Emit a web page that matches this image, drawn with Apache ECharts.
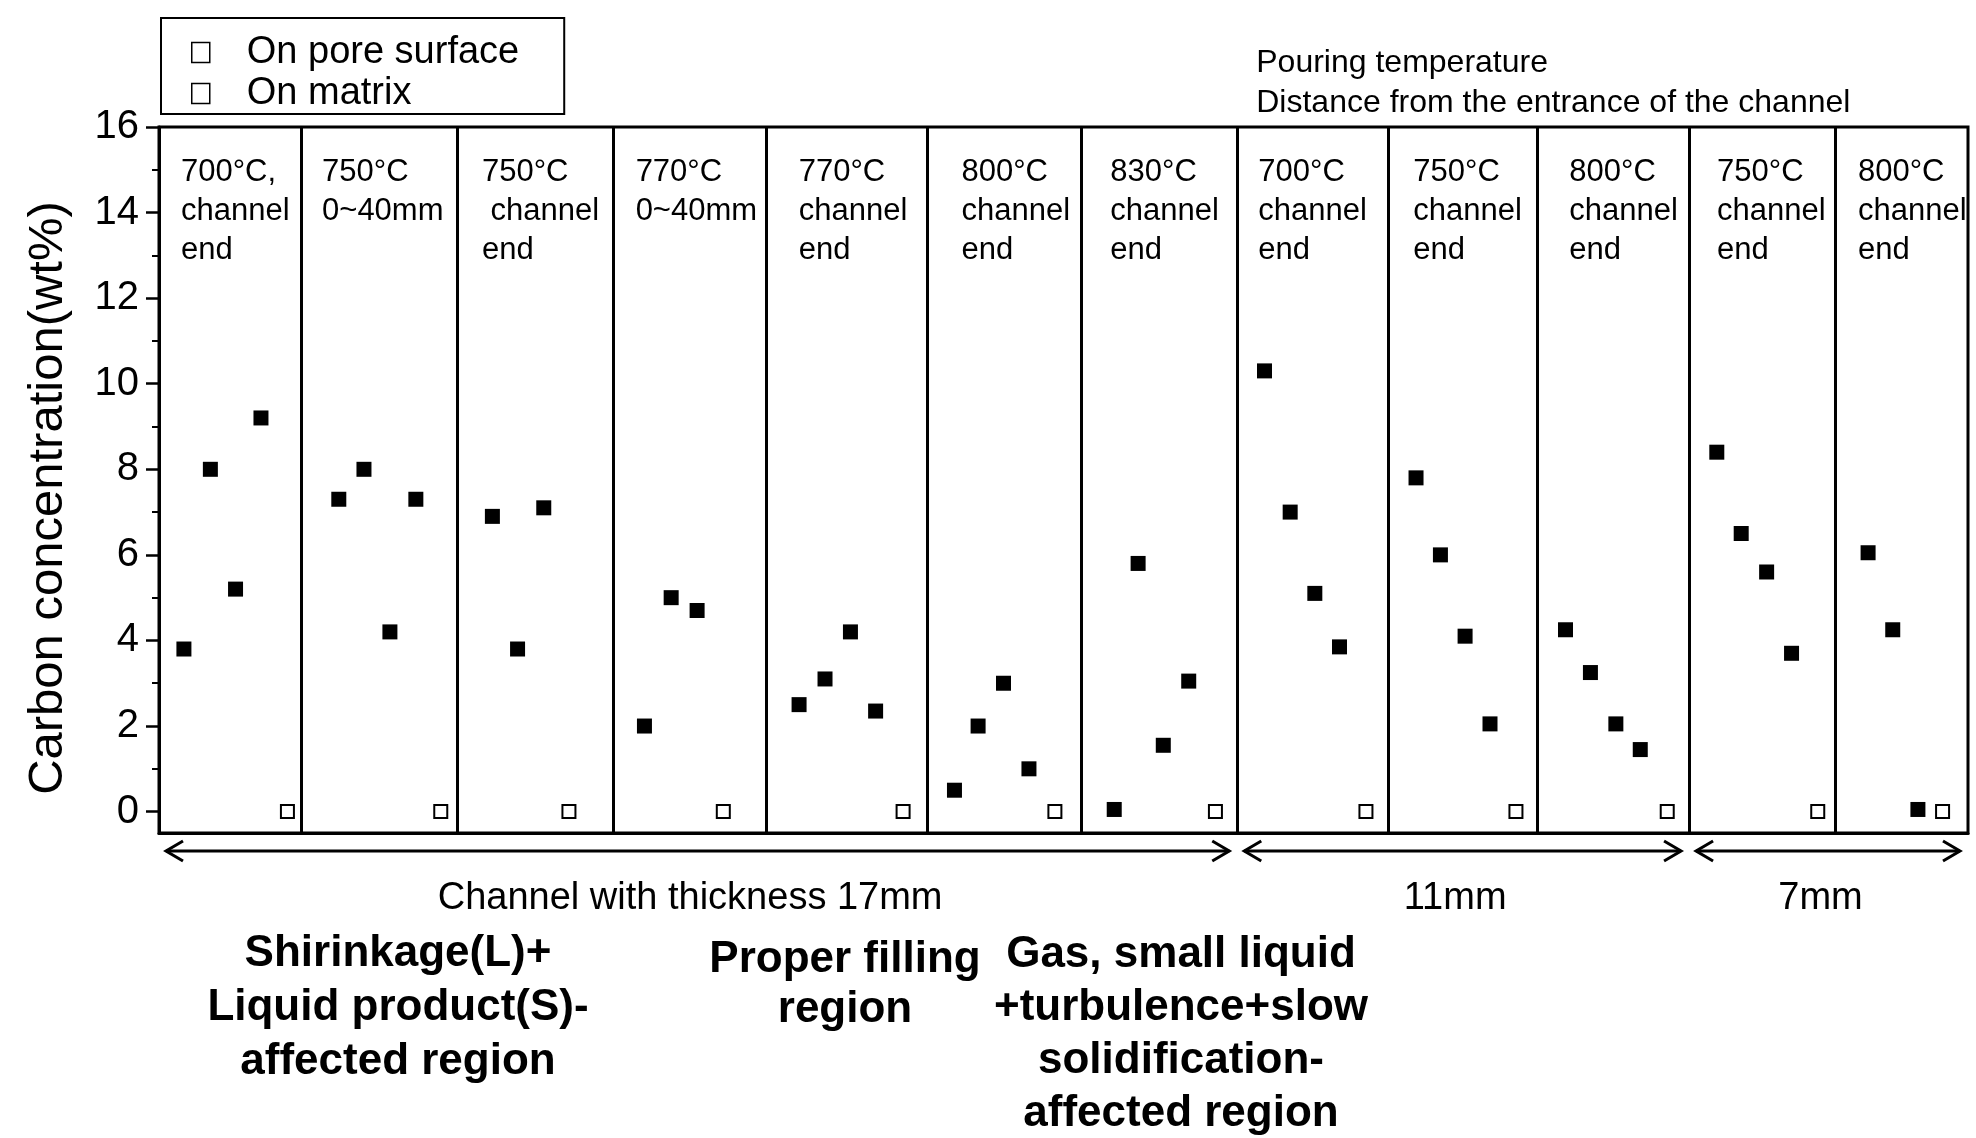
<!DOCTYPE html>
<html>
<head>
<meta charset="utf-8">
<title>Carbon concentration by channel</title>
<script src="https://cdn.jsdelivr.net/npm/echarts@6/dist/echarts.min.js"></script>
<style>
  html, body { margin: 0; padding: 0; background: #fff; }
  #chart { width: 1976px; height: 1138px; }
</style>
</head>
<body>
<div id="chart"></div>
<script>
const FONT = '"Liberation Sans", Arial, Helvetica, sans-serif'

// panel boundaries on the position axis
const panelEdges = [0, 5.53, 11.6, 17.7, 23.66, 29.92, 35.91, 41.98, 47.86, 53.66, 59.57, 65.25, 70.43]

// pouring temperature / distance from the channel entrance, one per panel
const panelLabels = [
  '700°C,\nchannel\nend', '750°C\n0~40mm', '750°C\n channel\nend', '770°C\n0~40mm',
  '770°C\nchannel\nend', '800°C\nchannel\nend', '830°C\nchannel\nend', '700°C\nchannel\nend',
  '750°C\nchannel\nend', '800°C\nchannel\nend', '750°C\nchannel\nend', '800°C\nchannel\nend'
]

// carbon on pore surface (filled squares)
const poreX = [
  0.97, 2.0, 2.98, 3.97,
  7.0, 7.98, 8.99, 10.0,
  12.98, 13.96, 14.98,
  18.9, 19.94, 20.95,
  24.92, 25.93, 26.92, 27.9,
  30.97, 31.89, 32.88, 33.87,
  37.19, 38.12, 39.1, 40.09,
  43.04, 44.04, 45.0, 45.96,
  48.94, 49.89, 50.85, 51.82,
  54.76, 55.73, 56.72, 57.67,
  60.65, 61.6, 62.59, 63.56,
  66.54, 67.5, 68.48
]
const poreY = [
  3.8, 8.0, 5.2, 9.2,
  7.3, 8.0, 4.2, 7.3,
  6.9, 3.8, 7.1,
  2.0, 5.0, 4.7,
  2.5, 3.1, 4.2, 2.35,
  0.5, 2.0, 3.0, 1.0,
  0.05, 5.8, 1.55, 3.05,
  10.3, 7.0, 5.1, 3.85,
  7.8, 6.0, 4.1, 2.05,
  4.25, 3.25, 2.05, 1.45,
  8.4, 6.5, 5.6, 3.7,
  6.05, 4.25, 0.05
]

// carbon on matrix (open squares)
const matrixX = [5.0, 10.97, 15.96, 21.97, 28.97, 34.88, 41.13, 46.99, 52.83, 58.72, 64.58, 69.44]
const matrixY = [0, 0, 0, 0, 0, 0, 0, 0, 0, 0, 0, 0]

const yTicks = [0, 2, 4, 6, 8, 10, 12, 14, 16]
const yMinorTicks = [1, 3, 5, 7, 9, 11, 13, 15]
const legendNames = ['On pore surface', 'On matrix']

// channel thickness groups, by panel index
const thicknessGroups = [
  { name: 'Channel with thickness 17mm', from: 0, to: 7 },
  { name: '11mm', from: 7, to: 10 },
  { name: '7mm', from: 10, to: 12 }
]

const regionNotes = [
  'Shirinkage(L)+\nLiquid product(S)-\naffected region',
  'Proper filling\nregion',
  'Gas, small liquid\n+turbulence+slow\nsolidification-\naffected region'
]

// layout only
const labelDx = [22, 21, 25, 22, 32, 34, 29, 21, 25, 32, 28, 23]
const notePos = [
  { x: 398, y: 927, lh: 54 },
  { x: 845, y: 935, lh: 50 },
  { x: 1181, y: 928, lh: 53 }
]

const chart = echarts.init(document.getElementById('chart'))

const option = {
  animation: false,
  backgroundColor: '#fff',
  textStyle: { fontFamily: FONT, color: '#000' },
  grid: {
    left: 159, right: 8, top: 127, bottom: 305,
    show: true, borderColor: '#000', borderWidth: 3,
    outerBoundsMode: 'none'
  },
  legend: {
    orient: 'vertical',
    left: 161, top: 18,
    padding: [14, 45, 0, 30],
    itemGap: 0,
    itemWidth: 18, itemHeight: 20,
    borderColor: '#000', borderWidth: 2,
    selectedMode: false,
    textStyle: { fontFamily: FONT, fontSize: 38, color: '#000', lineHeight: 41, padding: [0, 0, 0, 32] },
    data: legendNames.map(n => ({
      name: n, icon: 'rect',
      itemStyle: { color: '#fff', borderColor: '#000', borderWidth: 1.5 }
    }))
  },
  xAxis: {
    type: 'value', min: 0, max: panelEdges[panelEdges.length - 1],
    axisLine: { show: true, onZero: false, lineStyle: { color: '#000', width: 3 } },
    axisTick: { show: false },
    axisLabel: { show: false },
    splitLine: { show: false }
  },
  yAxis: [
    {
      type: 'value', min: -0.5, max: 16,
      name: 'Carbon concentration(wt%)',
      nameLocation: 'middle', nameGap: 86,
      nameTextStyle: { fontFamily: FONT, fontSize: 49, color: '#000', padding: [0, 36, 0, 0] },
      axisLine: { show: true, onZero: false, lineStyle: { color: '#000', width: 3 } },
      axisTick: { show: true, customValues: yTicks, length: 13, lineStyle: { color: '#000', width: 2.5 } },
      axisLabel: { customValues: yTicks, fontFamily: FONT, fontSize: 40, color: '#000', margin: 20 },
      splitLine: { show: false }
    },
    {
      type: 'value', min: -0.5, max: 16, position: 'left',
      axisLine: { show: false },
      axisTick: { show: true, customValues: yMinorTicks, length: 7, lineStyle: { color: '#000', width: 2 } },
      axisLabel: { show: false },
      splitLine: { show: false }
    }
  ],
  series: [
    {
      name: legendNames[0],
      type: 'scatter',
      symbol: 'rect', symbolSize: 15,
      itemStyle: { color: '#000', opacity: 1 },
      emphasis: { disabled: true },
      data: poreX.map((x, i) => [x, poreY[i]]),
      z: 5
    },
    {
      name: legendNames[1],
      type: 'scatter',
      symbol: 'rect', symbolSize: 13,
      itemStyle: { color: '#fff', borderColor: '#000', borderWidth: 2, opacity: 1 },
      emphasis: { disabled: true },
      data: matrixX.map((x, i) => [x, matrixY[i]]),
      z: 5,
      markLine: {
        silent: true,
        symbol: ['none', 'none'],
        label: { show: false },
        lineStyle: { color: '#000', width: 3, type: 'solid' },
        emphasis: { disabled: true },
        data: panelEdges.slice(1, -1).map(v => ({ xAxis: v }))
      }
    }
  ]
}

chart.setOption(option)

const px = v => chart.convertToPixel({ xAxisIndex: 0 }, v)
const graphics = []

// panel captions
panelLabels.forEach((t, i) => {
  graphics.push({
    type: 'text', x: px(panelEdges[i]) + labelDx[i], y: 153,
    style: { text: t, font: '31px ' + FONT, fill: '#000', lineHeight: 39, verticalAlign: 'top', align: 'left' }
  })
})

// header above the panels
graphics.push({
  type: 'text', x: px(panelEdges[7]) + 19, y: 43,
  style: {
    text: 'Pouring temperature\nDistance from the entrance of the channel',
    font: '32px ' + FONT, fill: '#000', lineHeight: 40, verticalAlign: 'top'
  }
})

// double-headed arrows for the channel thickness groups
function arrow(x1, x2, y) {
  const len = 17, half = 10
  const st = { stroke: '#000', lineWidth: 3, fill: null }
  return [
    { type: 'line', shape: { x1: x1, y1: y, x2: x2, y2: y }, style: st },
    { type: 'polyline', shape: { points: [[x1 + len, y - half], [x1, y], [x1 + len, y + half]] }, style: st },
    { type: 'polyline', shape: { points: [[x2 - len, y - half], [x2, y], [x2 - len, y + half]] }, style: st }
  ]
}

thicknessGroups.forEach(g => {
  const a = px(panelEdges[g.from]), b = px(panelEdges[g.to])
  arrow(a + 7, b - 8, 851).forEach(e => graphics.push(e))
  graphics.push({
    type: 'text', x: (a + b) / 2 - 8, y: 899,
    style: { text: g.name, font: '38px ' + FONT, fill: '#000', align: 'center', verticalAlign: 'middle' }
  })
})

// defect region notes
regionNotes.forEach((t, i) => {
  const p = notePos[i]
  graphics.push({
    type: 'text', x: p.x, y: p.y,
    style: { text: t, font: 'bold 44px ' + FONT, fill: '#000', align: 'center', verticalAlign: 'top', lineHeight: p.lh }
  })
})

chart.setOption({ graphic: graphics })
</script>
</body>
</html>
